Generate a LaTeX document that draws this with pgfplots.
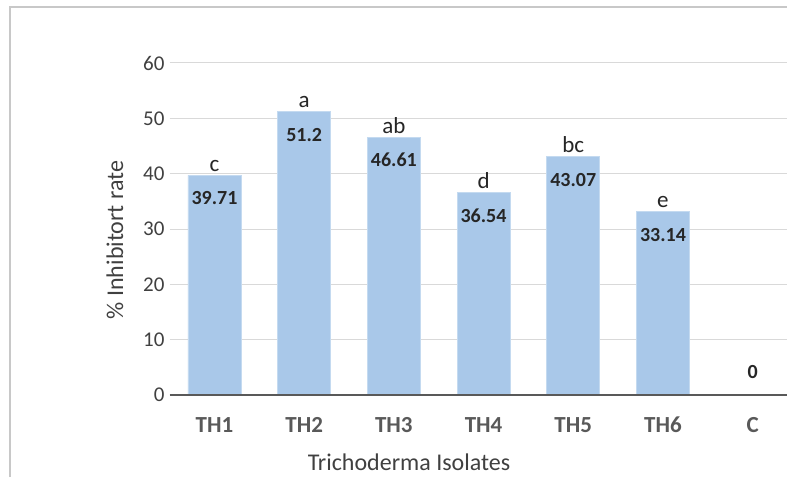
\documentclass[border=0pt]{standalone}
\usepackage{pgfplots}
\pgfplotsset{compat=1.18}
\usepackage{fontspec}
\setmainfont{Carlito}
\definecolor{barblue}{HTML}{A9C8E9}
\definecolor{baredge}{HTML}{C4DAF0}
\definecolor{gridgray}{HTML}{D9D9D9}
\definecolor{axisgray}{HTML}{595959}
\definecolor{txtgray}{HTML}{404040}
\definecolor{framegray}{HTML}{C8C8C8}
\pgfplotstableread{
x y lab let
0 39.71 39.71 c
1 51.2 51.2 a
2 46.61 46.61 ab
3 36.54 36.54 d
4 43.07 43.07 bc
5 33.14 33.14 e
}\bars
\pgfplotstableread{
x y lab
6 0 0
}\ctrl
\begin{document}
\begin{tikzpicture}[x=1pt,y=1pt]
\path[use as bounding box] (0,0) rectangle (787,477);
\draw[framegray, line width=1.2pt] (10,0) -- (10,470) -- (787,470);
\begin{axis}[
  at={(169.6pt,82pt)}, anchor=south west,
  scale only axis, width=627.9pt, height=332pt,
  xmin=-0.5, xmax=6.5, ymin=0, ymax=60,
  axis line style={draw=none},
  ytick={0,10,...,60},
  ymajorgrids, grid style={gridgray, line width=1pt},
  major tick length=0pt,
  xtick={0,...,6}, xticklabels={TH1,TH2,TH3,TH4,TH5,TH6,C},
  x tick label style={font=\fontsize{23}{23}\selectfont\bfseries, text=axisgray, anchor=center, yshift=-30pt},
  y tick label style={font=\fontsize{21}{21}\selectfont, text=txtgray, anchor=east, inner sep=0pt, xshift=-5pt},
  /pgf/number format/assume math mode=true,
  clip=false,
]
\addplot[ybar, bar width=53pt, bar shift=0pt, fill=barblue, draw=baredge, line width=0.8pt,
  nodes near coords, point meta=explicit symbolic,
  nodes near coords style={font=\fontsize{20}{20}\selectfont\bfseries, text=black!85, anchor=center, yshift=-23pt}]
  table[x=x, y=y, meta=lab]{\bars};
\addplot[draw=none, mark=none,
  nodes near coords, point meta=explicit symbolic,
  nodes near coords style={font=\fontsize{20}{20}\selectfont\bfseries, text=black!85, anchor=center, yshift=23pt}]
  table[x=x, y=y, meta=lab]{\ctrl};
\addplot[draw=none, mark=none,
  nodes near coords, point meta=explicit symbolic,
  nodes near coords style={font=\fontsize{23}{23}\selectfont, text=black!85, anchor=base, inner sep=0pt, yshift=4pt}]
  table[x=x, y=y, meta=let]{\bars};
\draw[axisgray, line width=2.2pt] (axis cs:-0.5,0) -- (axis cs:6.5,0);
\end{axis}
\node[font=\fontsize{24}{24}\selectfont, text=txtgray, inner sep=1pt] at (409,15) {Trichoderma Isolates};
\node[font=\fontsize{24}{24}\selectfont, text=txtgray, rotate=90] at (115,237) {\% Inhibitort rate};
\end{tikzpicture}
\end{document}
